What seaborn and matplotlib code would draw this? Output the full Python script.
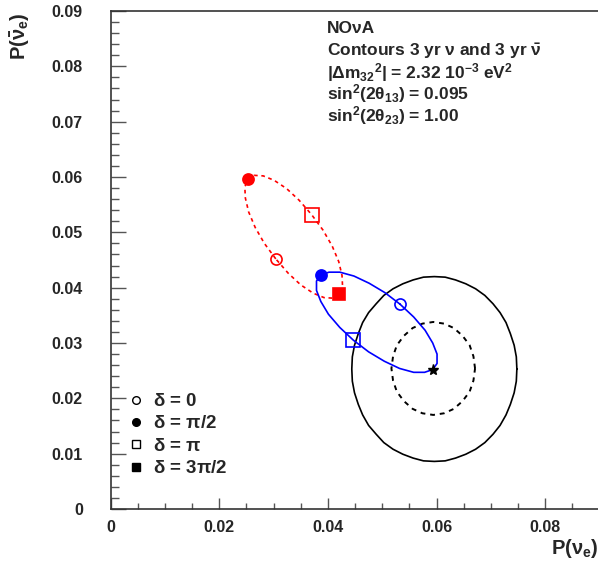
import numpy as np
import pandas as pd
import matplotlib
matplotlib.use("Agg")
import matplotlib.pyplot as plt
from matplotlib.lines import Line2D
import seaborn as sns

# Curvas (P(nu_e), P(nubar_e))
# Elipse jerarquia normal (azul, continua), delta de 0 a 2pi en pasos de 15 grados
nh_x = [0.0533, 0.0505, 0.0476, 0.0448, 0.0422, 0.0402, 0.0387, 0.0379, 0.0379, 0.0387, 0.0401, 0.0422,
        0.0447, 0.0475, 0.0504, 0.0532, 0.0558, 0.0578, 0.0593, 0.0601, 0.0601, 0.0593, 0.0579, 0.0558]
nh_y = [0.0370, 0.0391, 0.0408, 0.0421, 0.0428, 0.0428, 0.0423, 0.0412, 0.0395, 0.0375, 0.0352, 0.0328,
        0.0305, 0.0284, 0.0267, 0.0254, 0.0247, 0.0247, 0.0252, 0.0263, 0.0280, 0.0300, 0.0323, 0.0347]

# Elipse jerarquia invertida (roja, punteada)
ih_x = [0.0304, 0.0283, 0.0266, 0.0254, 0.0248, 0.0247, 0.0253, 0.0264, 0.0281, 0.0301, 0.0324, 0.0347,
        0.0370, 0.0391, 0.0408, 0.0420, 0.0426, 0.0427, 0.0421, 0.0410, 0.0393, 0.0373, 0.0350, 0.0327]
ih_y = [0.0452, 0.0480, 0.0509, 0.0537, 0.0562, 0.0582, 0.0596, 0.0603, 0.0602, 0.0594, 0.0579, 0.0558,
        0.0532, 0.0504, 0.0475, 0.0447, 0.0422, 0.0402, 0.0388, 0.0381, 0.0382, 0.0390, 0.0405, 0.0426]

# Contorno exterior (negro, continuo)
c2_x = [0.0748, 0.0747, 0.0743, 0.0736, 0.0728, 0.0717, 0.0704, 0.0689, 0.0672, 0.0654, 0.0635, 0.0616,
        0.0596, 0.0576, 0.0557, 0.0538, 0.0520, 0.0503, 0.0489, 0.0475, 0.0464, 0.0456, 0.0449, 0.0445,
        0.0444, 0.0445, 0.0449, 0.0456, 0.0464, 0.0475, 0.0489, 0.0503, 0.0520, 0.0538, 0.0557, 0.0576,
        0.0596, 0.0616, 0.0635, 0.0654, 0.0672, 0.0689, 0.0704, 0.0717, 0.0728, 0.0736, 0.0743, 0.0747]
c2_y = [0.0253, 0.0275, 0.0296, 0.0317, 0.0337, 0.0355, 0.0371, 0.0386, 0.0398, 0.0407, 0.0414, 0.0419,
        0.0420, 0.0419, 0.0414, 0.0407, 0.0398, 0.0386, 0.0371, 0.0355, 0.0337, 0.0317, 0.0296, 0.0275,
        0.0253, 0.0231, 0.0210, 0.0189, 0.0170, 0.0151, 0.0135, 0.0120, 0.0108, 0.0099, 0.0092, 0.0087,
        0.0086, 0.0087, 0.0092, 0.0099, 0.0108, 0.0120, 0.0135, 0.0151, 0.0170, 0.0189, 0.0210, 0.0231]

# Contorno interior (negro, punteado)
c1_x = [0.0671, 0.0668, 0.0661, 0.0648, 0.0632, 0.0614, 0.0594, 0.0574, 0.0556, 0.0540, 0.0527, 0.0520,
        0.0517, 0.0520, 0.0527, 0.0540, 0.0556, 0.0574, 0.0594, 0.0614, 0.0632, 0.0648, 0.0661, 0.0668]
c1_y = [0.0254, 0.0276, 0.0296, 0.0313, 0.0327, 0.0335, 0.0338, 0.0335, 0.0327, 0.0313, 0.0296, 0.0276,
        0.0254, 0.0232, 0.0212, 0.0195, 0.0181, 0.0173, 0.0170, 0.0173, 0.0181, 0.0195, 0.0212, 0.0232]

# Puntos de delta (0, pi/2, pi, 3pi/2)
nh_pts_x = [0.0533, 0.0387, 0.0447]
nh_pts_y = [0.0370, 0.0423, 0.0305]
ih_pts_x = [0.0304, 0.0253, 0.0370, 0.0421]
ih_pts_y = [0.0452, 0.0596, 0.0532, 0.0388]
star_x = [0.0593]
star_y = [0.0252]

delta_labels = [r"$\delta$ = 0", r"$\delta$ = $\pi$/2", r"$\delta$ = $\pi$", r"$\delta$ = 3$\pi$/2"]
info_lines = ["NO\u03bdA",
              r"Contours 3 yr $\nu$ and 3 yr $\bar{\nu}$",
              r"|$\Delta$m$_{32}$$^{2}$| = 2.32 10$^{-3}$ eV$^{2}$",
              r"sin$^{2}$(2$\theta_{13}$) = 0.095",
              r"sin$^{2}$(2$\theta_{23}$) = 1.00"]

sns.set_style("ticks")
plt.rcParams["font.family"] = ["Liberation Sans", "DejaVu Sans"]
plt.rcParams["font.weight"] = "bold"
plt.rcParams["mathtext.fontset"] = "custom"
plt.rcParams["mathtext.rm"] = "Liberation Sans:bold"
plt.rcParams["mathtext.it"] = "Liberation Sans:bold"
plt.rcParams["mathtext.bf"] = "Liberation Sans:bold"

W, H = 598, 566
fig = plt.figure(figsize=(W / 100, H / 100), dpi=100)
x0, x1, y0, y1 = 110.7, 599.4, 509, 11
ax = fig.add_axes([x0 / W, 1 - y0 / H, (x1 - x0) / W, (y0 - y1) / H])


def cerrar(x, y):
    return pd.DataFrame({"x": list(x) + [x[0]], "y": list(y) + [y[0]]})


sns.lineplot(data=cerrar(c2_x, c2_y), x="x", y="y", sort=False, estimator=None, color="black", lw=1.2, ax=ax)
sns.lineplot(data=cerrar(c1_x, c1_y), x="x", y="y", sort=False, estimator=None, color="black", lw=1.4,
             linestyle=(0, (2.5, 2.5)), ax=ax)
sns.lineplot(data=cerrar(ih_x, ih_y), x="x", y="y", sort=False, estimator=None, color="red", lw=1.2,
             linestyle=(0, (2.2, 2.2)), ax=ax)
sns.lineplot(data=cerrar(nh_x, nh_y), x="x", y="y", sort=False, estimator=None, color="blue", lw=1.2, ax=ax)

marcas = ["o", "o", "s", "s"]
rellenos = [False, True, False, True]
tam = [8, 8, 9.5, 8]
for xs, ys, col in [(nh_pts_x, nh_pts_y, "blue"), (ih_pts_x, ih_pts_y, "red")]:
    for k in range(len(xs)):
        ax.plot(xs[k], ys[k], marker=marcas[k], ms=tam[k], mec=col, mew=1.2,
                mfc=col if rellenos[k] else "none", ls="none")
ax.plot(star_x, star_y, marker="*", ms=8, color="black", ls="none")

ax.set_xlim(0, 0.09)
ax.set_ylim(0, 0.09)
ax.set_xticks([0, 0.02, 0.04, 0.06, 0.08])
ax.set_xticklabels(["0", "0.02", "0.04", "0.06", "0.08"])
ax.set_yticks(np.arange(0, 0.0901, 0.01))
ax.set_yticklabels(["0"] + ["%.2f" % v for v in np.arange(0.01, 0.0901, 0.01)])
ax.set_xticks(np.arange(0, 0.0901, 0.005), minor=True)
ax.set_yticks(np.arange(0, 0.0901, 0.002), minor=True)
ax.tick_params(which="both", direction="in", labelsize=11.5, width=1, color="#555555")
ax.tick_params(axis="x", which="major", length=8, pad=8)
ax.tick_params(axis="x", which="minor", length=4)
ax.tick_params(axis="y", which="major", length=11, pad=20)
ax.tick_params(axis="y", which="minor", length=6)
for lab in ax.get_xticklabels() + ax.get_yticklabels():
    lab.set_fontweight("bold")
for s in ax.spines.values():
    s.set_visible(True)
    s.set_color("#333333")
    s.set_linewidth(1.2)
ax.set_xlabel("")
ax.set_ylabel("")

fig.text(598 / W, 1 - 553.5 / H, r"P($\nu_{e}$)", ha="right", va="baseline", fontsize=14.5, fontweight="bold")
fig.text(20 / W, 1 - 12 / H, r"P($\bar{\nu}_{e}$)", ha="center", va="top", rotation=90, fontsize=14.5,
         fontweight="bold")

ys_info = [27.3, 48.5, 70, 91, 112.5]
for t, yy in zip(info_lines, ys_info):
    fig.text(327 / W, 1 - yy / H, t, ha="left", va="center_baseline", fontsize=12.5, fontweight="bold")

handles = [Line2D([], [], marker=marcas[k], ls="none", color="black", mfc="black" if rellenos[k] else "none",
                  ms=5.5, mew=1) for k in range(4)]
ax.legend(handles, delta_labels, loc="upper left", bbox_to_anchor=(16 / 488.7, (509 - 393) / 498),
          frameon=False, prop={"size": 13.5, "weight": "bold"}, handletextpad=0.4, labelspacing=0.28,
          handlelength=1.0, borderaxespad=0, borderpad=0)

fig.savefig("out.png", dpi=100)
